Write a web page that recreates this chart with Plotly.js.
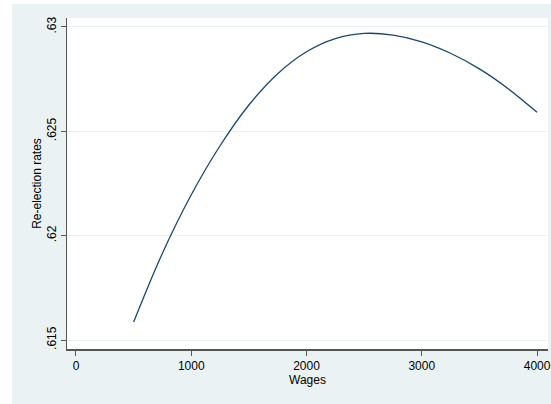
<!DOCTYPE html>
<html><head><meta charset="utf-8">
<script src="https://cdn.plot.ly/plotly-3.0.1.min.js"></script>
<style>body{margin:0;background:#fff;width:551px;height:404px;overflow:hidden;position:relative}
#bg{position:absolute;left:12px;top:4px;width:539px;height:400px;background:#EAF2F3}
#chart{position:absolute;left:0;top:0;width:551px;height:404px}</style>
</head><body><div id="bg"></div><div id="chart"></div>
<script>
const wages = [500,750,1000,1250,1500,1750,2000,2250,2500,2750,3000,3250,3500,3750,4000];
const rates = [0.61586,0.61916,0.62196,0.62431,0.62626,0.62776,0.62881,0.62944,0.62969,0.62961,0.62929,0.62874,0.62799,0.62704,0.62591];
const xTicks = [0,1000,2000,3000,4000];
const yTicks = [0.615,0.62,0.625,0.63];
const yTickText = ['.615','.62','.625','.63'];
Plotly.newPlot('chart',[{x:wages,y:rates,type:'scatter',mode:'lines',line:{color:'#1a476f',width:1.3,shape:'spline'},hoverinfo:'skip'}],{
  width:551,height:404,margin:{l:67,r:3,t:18,b:55},
  paper_bgcolor:'rgba(0,0,0,0)',plot_bgcolor:'#fff',showlegend:false,
  font:{family:'Liberation Sans, Arial, sans-serif',size:12,color:'#000'},
  xaxis:{range:[-78,4095],tickvals:xTicks,ticks:'outside',ticklen:5,tickcolor:'#555',showgrid:false,zeroline:false,showline:true,linecolor:'#555',linewidth:1.5,
    title:{text:'Wages',standoff:0,font:{size:12}}},
  yaxis:{range:[0.61457,0.63043],tickvals:yTicks,ticktext:yTickText,tickangle:-90,ticks:'outside',ticklen:5,tickcolor:'#555',showgrid:true,gridcolor:'#EAF2F3',zeroline:false,showline:true,linecolor:'#555',linewidth:1.5,
    title:{text:'Re-election rates',standoff:0,font:{size:12}}}
},{staticPlot:true});
</script></body></html>
